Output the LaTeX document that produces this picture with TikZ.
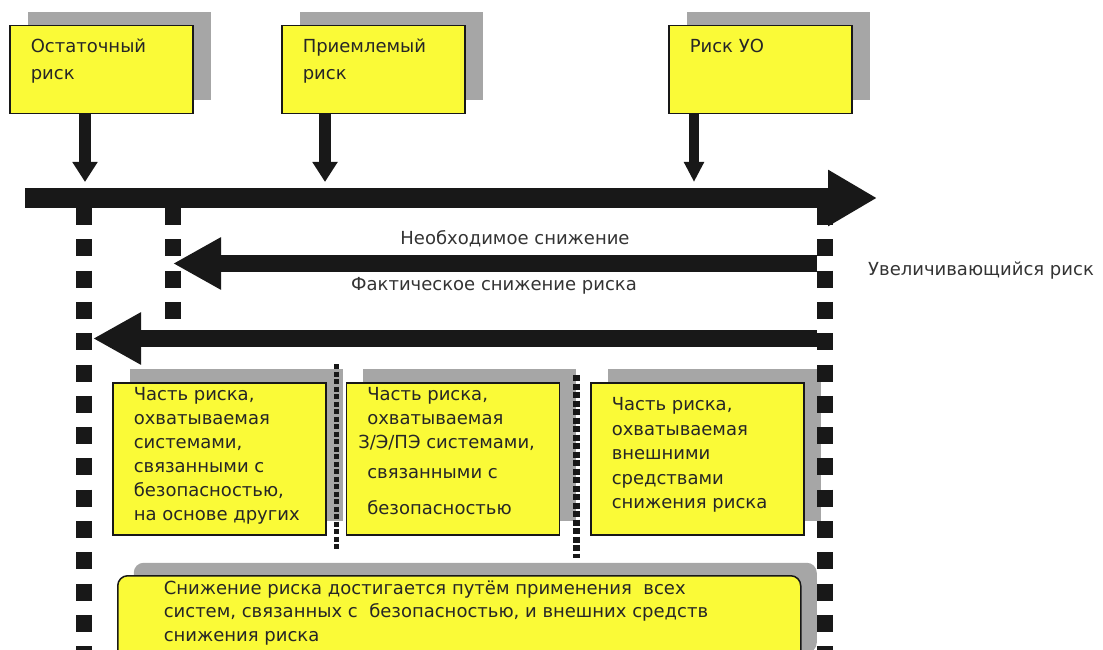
\documentclass[tikz,border=0pt]{standalone}
\usepackage{fontspec}
\setmainfont{DejaVu Sans}
\usetikzlibrary{arrows.meta,positioning,shadows}
\definecolor{boxyellow}{RGB}{250,250,55}
\definecolor{shadowgray}{RGB}{166,166,166}
\definecolor{ink}{RGB}{24,24,24}

\begin{document}
\begin{tikzpicture}[x=1pt, y=-1pt,
    riskbox/.style={draw=ink, line width=1.5pt, fill=boxyellow, anchor=north west, text=black!85},
    topbox/.style={riskbox, inner xsep=21pt, inner ysep=13.5pt, font=\fontsize{18}{26.5}\selectfont,
        drop shadow={shadow xshift=18pt, shadow yshift=14pt, fill=shadowgray, opacity=1}},
    partbox/.style={riskbox, inner xsep=21pt, inner ysep=5pt, font=\fontsize{18}{24}\selectfont,
        drop shadow={shadow xshift=17pt, shadow yshift=14pt, fill=shadowgray, opacity=1}},
    sumbox/.style={riskbox, rounded corners=10pt, inner xsep=46pt, inner ysep=5pt, font=\fontsize{18}{23.5}\selectfont,
        drop shadow={shadow xshift=16pt, shadow yshift=13pt, fill=shadowgray, opacity=1}},
    note/.style={text=black!80, font=\fontsize{18}{22}\selectfont, inner sep=0pt},
    feed/.style={draw=ink, line width=12pt, -{Triangle[width=24pt,length=20pt]}, shorten >=16pt},
    axis/.style={draw=ink, line width=19.5pt, -{Triangle[width=53pt,length=49pt]}},
    reduce/.style={draw=ink, line width=17pt, -{Triangle[width=49pt,length=48pt]}},
    bigdots/.style={draw=ink, line width=16pt, dash pattern=on 17pt off 14.3pt},
    smalldots/.style={draw=ink, line width=5pt, dash pattern=on 5pt off 2.5pt}]
    \useasboundingbox (0,0) rectangle (1103,650);
    \clip (0,0) rectangle (1103,650);

    % risk levels
    \node[topbox] (res) at (9,25) {\parbox[t][61pt][t]{141pt}{Остаточный\\риск}};
    \node[topbox] (tol) at (281,25) {\parbox[t][61pt][t]{141pt}{Приемлемый\\риск}};
    \node[topbox] (euc) at (668,25) {\parbox[t][61pt][t]{141pt}{Риск УО}};

    % parts of the risk reduction
    \node[partbox] (part1) at (112,382) {\parbox[t][142pt][t]{171pt}{Часть риска,\\охватываемая\\системами,\\связанными с\\безопасностью,\\на основе других}};
    \node[partbox, right=19pt of part1] (part2) {\parbox[t][142pt][t]{171pt}{Часть риска,\\охватываемая\\\hspace*{-9pt}\mbox{З/Э/ПЭ системами,}\\[6pt]связанными с\\[12pt]безопасностью}};
    \node[partbox, inner ysep=15pt, right=30pt of part2] (part3) {\parbox[t][122pt][t]{171pt}{\baselineskip=24.5pt Часть риска,\\охватываемая\\внешними\\средствами\\снижения риска}};
    \node[sumbox] (total) at (117,575) {\parbox[t][80pt][t]{591pt}{Снижение риска достигается путём применения\ \ всех\\систем, связанных с\ \ безопасностью, и внешних средств\\снижения риска}};

    % risk axis
    \coordinate (axisL) at (25,198);
    \coordinate (axisR) at (877,198);
    \draw[axis] (axisL) -- (axisR);
    \draw[feed] ([xshift=76pt]res.south west) -- ([xshift=76pt]res.south west |- axisL);
    \draw[feed] ([xshift=44pt]tol.south west) -- ([xshift=44pt]tol.south west |- axisL);
    \draw[feed, line width=10pt, -{Triangle[width=19pt,length=20pt]}] ([xshift=26pt]euc.south west) -- ([xshift=26pt]euc.south west |- axisL);

    \coordinate (resTop) at (84,208);
    \coordinate (accTop) at (173,208);
    \coordinate (eucTop) at (825,208);
    \coordinate (needStart) at (817,263.5);
    \coordinate (actStart) at (817,338.5);
    \draw[reduce] (needStart) -- (accTop |- needStart);
    \draw[reduce] (actStart) -- ([xshift=9pt]resTop |- actStart);

    \draw[bigdots] (resTop) -- ++(0,450);
    \draw[bigdots] (accTop) -- ++(0,112);
    \draw[bigdots] (eucTop) -- ++(0,450);
    \draw[smalldots] (336,364) -- (336,549);
    \draw[smalldots, line width=7pt, dash pattern=on 6pt off 2.5pt] (576,375) -- (576,558);

    \node[note] (needLbl) at (515,239) {Необходимое снижение};
    \node[note] (actLbl) at (494,286) {Фактическое снижение риска};
    \node[note, anchor=west] (riseLbl) at (868,271) {Увеличивающийся риск};
\end{tikzpicture}
\end{document}
